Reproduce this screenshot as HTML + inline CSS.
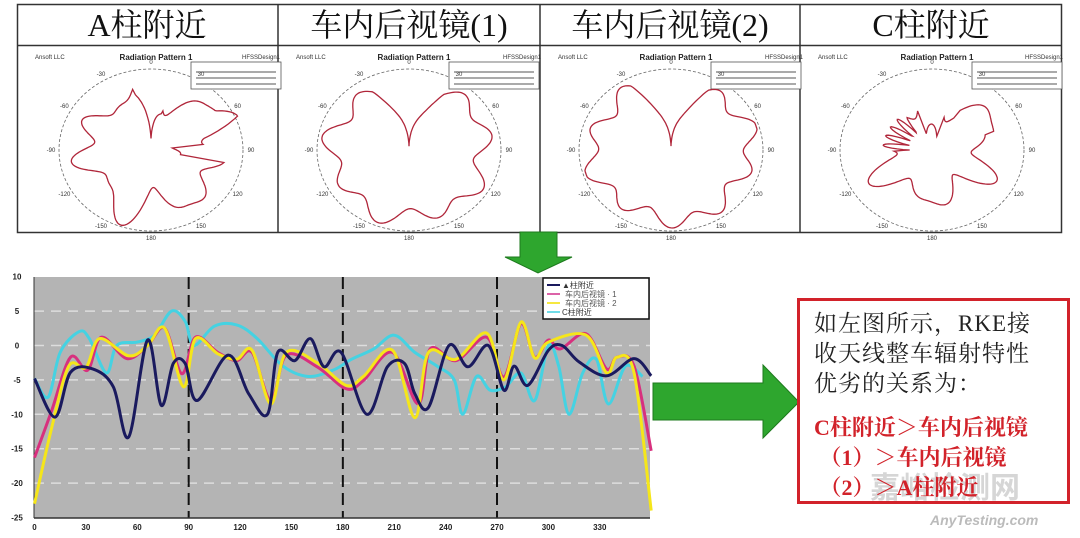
<!DOCTYPE html>
<html><head><meta charset="utf-8"><style>
body{margin:0;background:#fff;width:1080px;height:538px;overflow:hidden;position:relative;font-family:"Liberation Sans","Noto Sans CJK SC",sans-serif}
svg{position:absolute;left:0;top:0}
.t{font-family:"Liberation Serif","Noto Serif CJK SC",serif;font-size:32px;fill:#111}
.s{font-size:6px;fill:#333}
.box{position:absolute;left:797px;top:298px;width:273px;height:206px;border:3px solid #d2222a;box-sizing:border-box;font-family:"Liberation Serif","Noto Serif CJK SC",serif;font-size:23px;line-height:30px;padding:8px 0 0 14px;color:#222;letter-spacing:1px;white-space:nowrap}
.box .r{color:#d2222a;font-weight:bold;font-size:22px;letter-spacing:0}
</style></head><body>
<svg width="1080" height="538" id="sv">
<rect x="17.5" y="4.5" width="1044" height="228" fill="#fff" stroke="#333" stroke-width="1.5"/>
<line x1="17" y1="45.5" x2="1062" y2="45.5" stroke="#333" stroke-width="1.5"/>
<line x1="278" y1="4" x2="278" y2="232" stroke="#333" stroke-width="1.5"/>
<line x1="540" y1="4" x2="540" y2="232" stroke="#333" stroke-width="1.5"/>
<line x1="800" y1="4" x2="800" y2="232" stroke="#333" stroke-width="1.5"/>
<text class="t" x="147" y="36" text-anchor="middle">A柱附近</text>
<text class="t" x="409" y="36" text-anchor="middle">车内后视镜(1)</text>
<text class="t" x="670" y="36" text-anchor="middle">车内后视镜(2)</text>
<text class="t" x="931" y="36" text-anchor="middle">C柱附近</text>
<g id="polars"></g>
<polygon points="520,232 557,232 557,257 572,257 538,273 505,257 520,257" fill="#2ea62e" stroke="#1d7a1d"/>
<polygon points="653,383 763,383 763,365 799,402 763,438 763,420 653,420" fill="#2ea62e" stroke="#1d7a1d"/>
<rect x="34" y="277" width="616" height="241" fill="#b4b4b4"/>
<g id="grid"></g>
<g id="series"></g>
<rect x="543" y="278" width="106" height="41" fill="#fff" stroke="#111" stroke-width="1.5"/>
<line x1="547" y1="285" x2="560" y2="285" stroke="#1a1a5e" stroke-width="2"/><text x="562" y="288" font-size="8" fill="#333">▲柱附近</text>
<line x1="547" y1="294" x2="560" y2="294" stroke="#d02f8a" stroke-width="1.5"/><text x="565" y="297" font-size="8" fill="#555">车内后视镜 · 1</text>
<line x1="547" y1="303" x2="560" y2="303" stroke="#f2e000" stroke-width="1.5"/><text x="565" y="306" font-size="8" fill="#555">车内后视镜 · 2</text>
<line x1="547" y1="312" x2="560" y2="312" stroke="#40d0e0" stroke-width="1.5"/><text x="562" y="315" font-size="8" fill="#333">C柱附近</text>
<text x="870" y="498" font-size="30" fill="#ccc" font-weight="bold" font-family="Noto Sans CJK SC,sans-serif" opacity="0.8">嘉峪检测网</text>
<text x="930" y="525" font-size="14" fill="#bbb" font-style="italic" font-weight="bold">AnyTesting.com</text>
</svg>
<div class="box">如左图所示，RKE接<br>收天线整车辐射特性<br>优劣的关系为：<br><div style="height:14px"></div><span class="r">C柱附近＞车内后视镜<br>&nbsp;（1）＞车内后视镜<br>&nbsp;（2）＞A柱附近</span></div>
<script>
const NS="http://www.w3.org/2000/svg";
function el(p,t,a,txt){const e=document.createElementNS(NS,t);for(const k in a)e.setAttribute(k,a[k]);if(txt!==undefined)e.textContent=txt;p.appendChild(e);return e;}
const pg=document.getElementById('polars');
const panels=[
 {x:17,cx:151,f:th=>{let r=0.74+0.13*Math.cos(7*th+0.5)+0.1*Math.cos(5*th+1)+0.07*Math.cos(11*th);let d=Math.abs(Math.atan2(Math.sin(th),Math.cos(th)));if(d<0.25)r*=0.15+d*3;let e=Math.abs(Math.atan2(Math.sin(th-1.15),Math.cos(th-1.15)));if(e<0.18)r+=0.25*(1-e/0.18);let g=Math.abs(Math.atan2(Math.sin(th-1.6),Math.cos(th-1.6)));if(g<0.15)r*=0.4;return r;}},
 {x:278,cx:409,f:th=>{let r=0.86+0.09*Math.cos(9*th)+0.04*Math.cos(5*th+1);let d=Math.abs(Math.atan2(Math.sin(th),Math.cos(th)));if(d<0.5)r*=0.05+d*1.9;return Math.min(r,1);}},
 {x:540,cx:671,f:th=>{let r=0.88+0.09*Math.cos(10*th)+0.04*Math.cos(4*th+1);let d=Math.abs(Math.atan2(Math.sin(th),Math.cos(th)));if(d<0.5)r*=0.05+d*1.9;return Math.min(r,1);}},
 {x:800,cx:932,f:th=>{let r=0.6+0.15*Math.cos(6*th+0.3)+0.08*Math.cos(9*th);let a=Math.atan2(Math.sin(th),Math.cos(th));if(a<-0.6&&a>-1.6)r=0.25+0.3*Math.abs(Math.sin(14*th));if(Math.abs(a-0.9)<0.35)r+=0.1;if(Math.abs(a)<0.3)r*=0.4;return r;}}];
panels.forEach(p=>{
 const cy=150,rx=92,ry=81;
 el(pg,'text',{x:p.x+18,y:59,class:'s'},'Ansoft LLC');
 el(pg,'text',{x:p.cx+5,y:60,'font-size':8,'font-weight':'bold','text-anchor':'middle',fill:'#222'},'Radiation Pattern 1');
 el(pg,'text',{x:p.x+225,y:59,class:'s'},'HFSSDesign1');
 el(pg,'ellipse',{cx:p.cx,cy:cy,rx:rx,ry:ry,fill:'none',stroke:'#666','stroke-dasharray':'3,2','stroke-width':0.8});
 el(pg,'rect',{x:p.cx+40,y:62,width:90,height:27,fill:'#fff',stroke:'#555','stroke-width':0.8});
 for(let i=0;i<3;i++)el(pg,'line',{x1:p.cx+45,y1:72+i*6,x2:p.cx+125,y2:72+i*6,stroke:'#555','stroke-width':1});
 const labs=['0','30','60','90','120','150','180','-150','-120','-90','-60','-30'];
 for(let i=0;i<12;i++){const a=i*Math.PI/6;el(pg,'text',{x:p.cx+Math.sin(a)*(rx+8),y:cy-Math.cos(a)*(ry+7)+2,class:'s','text-anchor':'middle'},labs[i]);}
 let d='';for(let i=0;i<=360;i++){const th=i*Math.PI/180;const r=p.f(th);d+=(i?'L':'M')+(p.cx+Math.sin(th)*r*rx*0.97).toFixed(1)+','+(cy-Math.cos(th)*r*ry*0.97).toFixed(1);}
 el(pg,'path',{d:d+'Z',fill:'none',stroke:'#b0263a','stroke-width':1.3});
});
const g=document.getElementById('grid');
const X=d=>34.5+d*1.713, Y=v=>276.7+(10-v)*6.88;
for(let v=10;v>=-25;v-=5){el(g,'text',{x:17,y:Y(v)+3,'font-size':8,'font-weight':'bold',fill:'#222','text-anchor':'middle'},v);
 if(v<10&&v>-25)el(g,'line',{x1:34,y1:Y(v),x2:650,y2:Y(v),stroke:'#ddd','stroke-width':1.5,'stroke-dasharray':'10,7'});}
[90,180,270].forEach(d=>el(g,'line',{x1:X(d),y1:277,x2:X(d),y2:518,stroke:'#111','stroke-width':2,'stroke-dasharray':'12,6'}));
el(g,'line',{x1:34,y1:518,x2:650,y2:518,stroke:'#333','stroke-width':1.5});
el(g,'line',{x1:34,y1:277,x2:34,y2:518,stroke:'#333','stroke-width':1});
for(let d=0;d<=330;d+=30)el(g,'text',{x:X(d),y:530,'font-size':8,'font-weight':'bold',fill:'#222','text-anchor':'middle'},d);
const S={
cyan:[[0,-4.8],[8,-7.5],[15,-1],[26,2],[32,1],[42,-4],[48,0],[60,0.5],[70,1.5],[80,5],[88,3.5],[93,0],[105,2.8],[118,3],[130,1],[145,-3],[160,-4.5],[175,-3.5],[185,-2],[198,-0.5],[210,1.5],[222,-1],[235,-3],[245,-5],[250,-10],[258,-4.5],[266,-6.5],[275,-6],[284,-4],[292,-8],[300,0],[306,-3],[312,-10],[320,-4],[328,-2],[335,-8.5],[345,-3],[355,-4.5]],
mag:[[0,-16.3],[10,-9.5],[21,-1.7],[31,-3.6],[39,1.2],[54,-1.9],[66,0],[76,2.5],[86,-4.1],[94,1.2],[107,-1],[118,-2.2],[127,-1],[138,-8],[147,-1.4],[165,-3.1],[182,-6.3],[192,-5.1],[209,-1],[224,-8.5],[231,-0.5],[246,-2.2],[264,1.2],[274,-4.6],[284,3.2],[292,-1.7],[300,0.8],[307,-0.5],[322,1.7],[334,-3.4],[340,-1.7],[350,-3],[360,-15.3]],
yel:[[0,-23],[10,-12],[20,-3],[30,-3.2],[38,1],[55,-1.5],[66,0],[76,2.5],[87,-6],[94,1],[107,-1.2],[118,-2],[127,-0.7],[138,-8.5],[147,-1],[165,-2.5],[182,-5.8],[192,-4.5],[209,-0.7],[222,-10.5],[230,-1],[246,-2],[264,1.8],[274,-5],[284,3.4],[292,-1.8],[300,0.5],[322,1.5],[334,-4],[340,-1.7],[350,-4],[360,-24]],
navy:[[0,-4.8],[12,-10.4],[21,-3.9],[34,-3.4],[46,-6],[55,-13.3],[66,0.8],[74,-8.7],[81,-2.6],[88,-2.6],[95,-8],[113,-1.4],[125,-7],[136,-10],[142,-1],[152,-2.2],[161,1],[169,-3.1],[179,-1],[194,-10],[206,-3.1],[216,-2.6],[222,-7],[230,-9],[242,0],[253,-3.1],[265,0],[274,-6.5],[280,-3],[288,-5.8],[300,-0.7],[308,0],[318,-2.4],[334,-4.4],[350,-1.9],[360,-4.4]]};
function path(pts){const P=pts.map(p=>[X(p[0]),Y(p[1])]);let d='M'+P[0][0]+','+P[0][1];for(let i=0;i<P.length-1;i++){const p0=P[i-1]||P[i],p1=P[i],p2=P[i+1],p3=P[i+2]||p2;d+='C'+(p1[0]+(p2[0]-p0[0])/6).toFixed(1)+','+(p1[1]+(p2[1]-p0[1])/6).toFixed(1)+' '+(p2[0]-(p3[0]-p1[0])/6).toFixed(1)+','+(p2[1]-(p3[1]-p1[1])/6).toFixed(1)+' '+p2[0].toFixed(1)+','+p2[1].toFixed(1);}return d;}
const sg=document.getElementById('series');
[['cyan','#45d2e2'],['mag','#d8307e'],['yel','#f5e61a'],['navy','#1a1a5e']].forEach(([k,c])=>el(sg,'path',{d:path(S[k]),fill:'none',stroke:c,'stroke-width':3}));
</script>
</body></html>
